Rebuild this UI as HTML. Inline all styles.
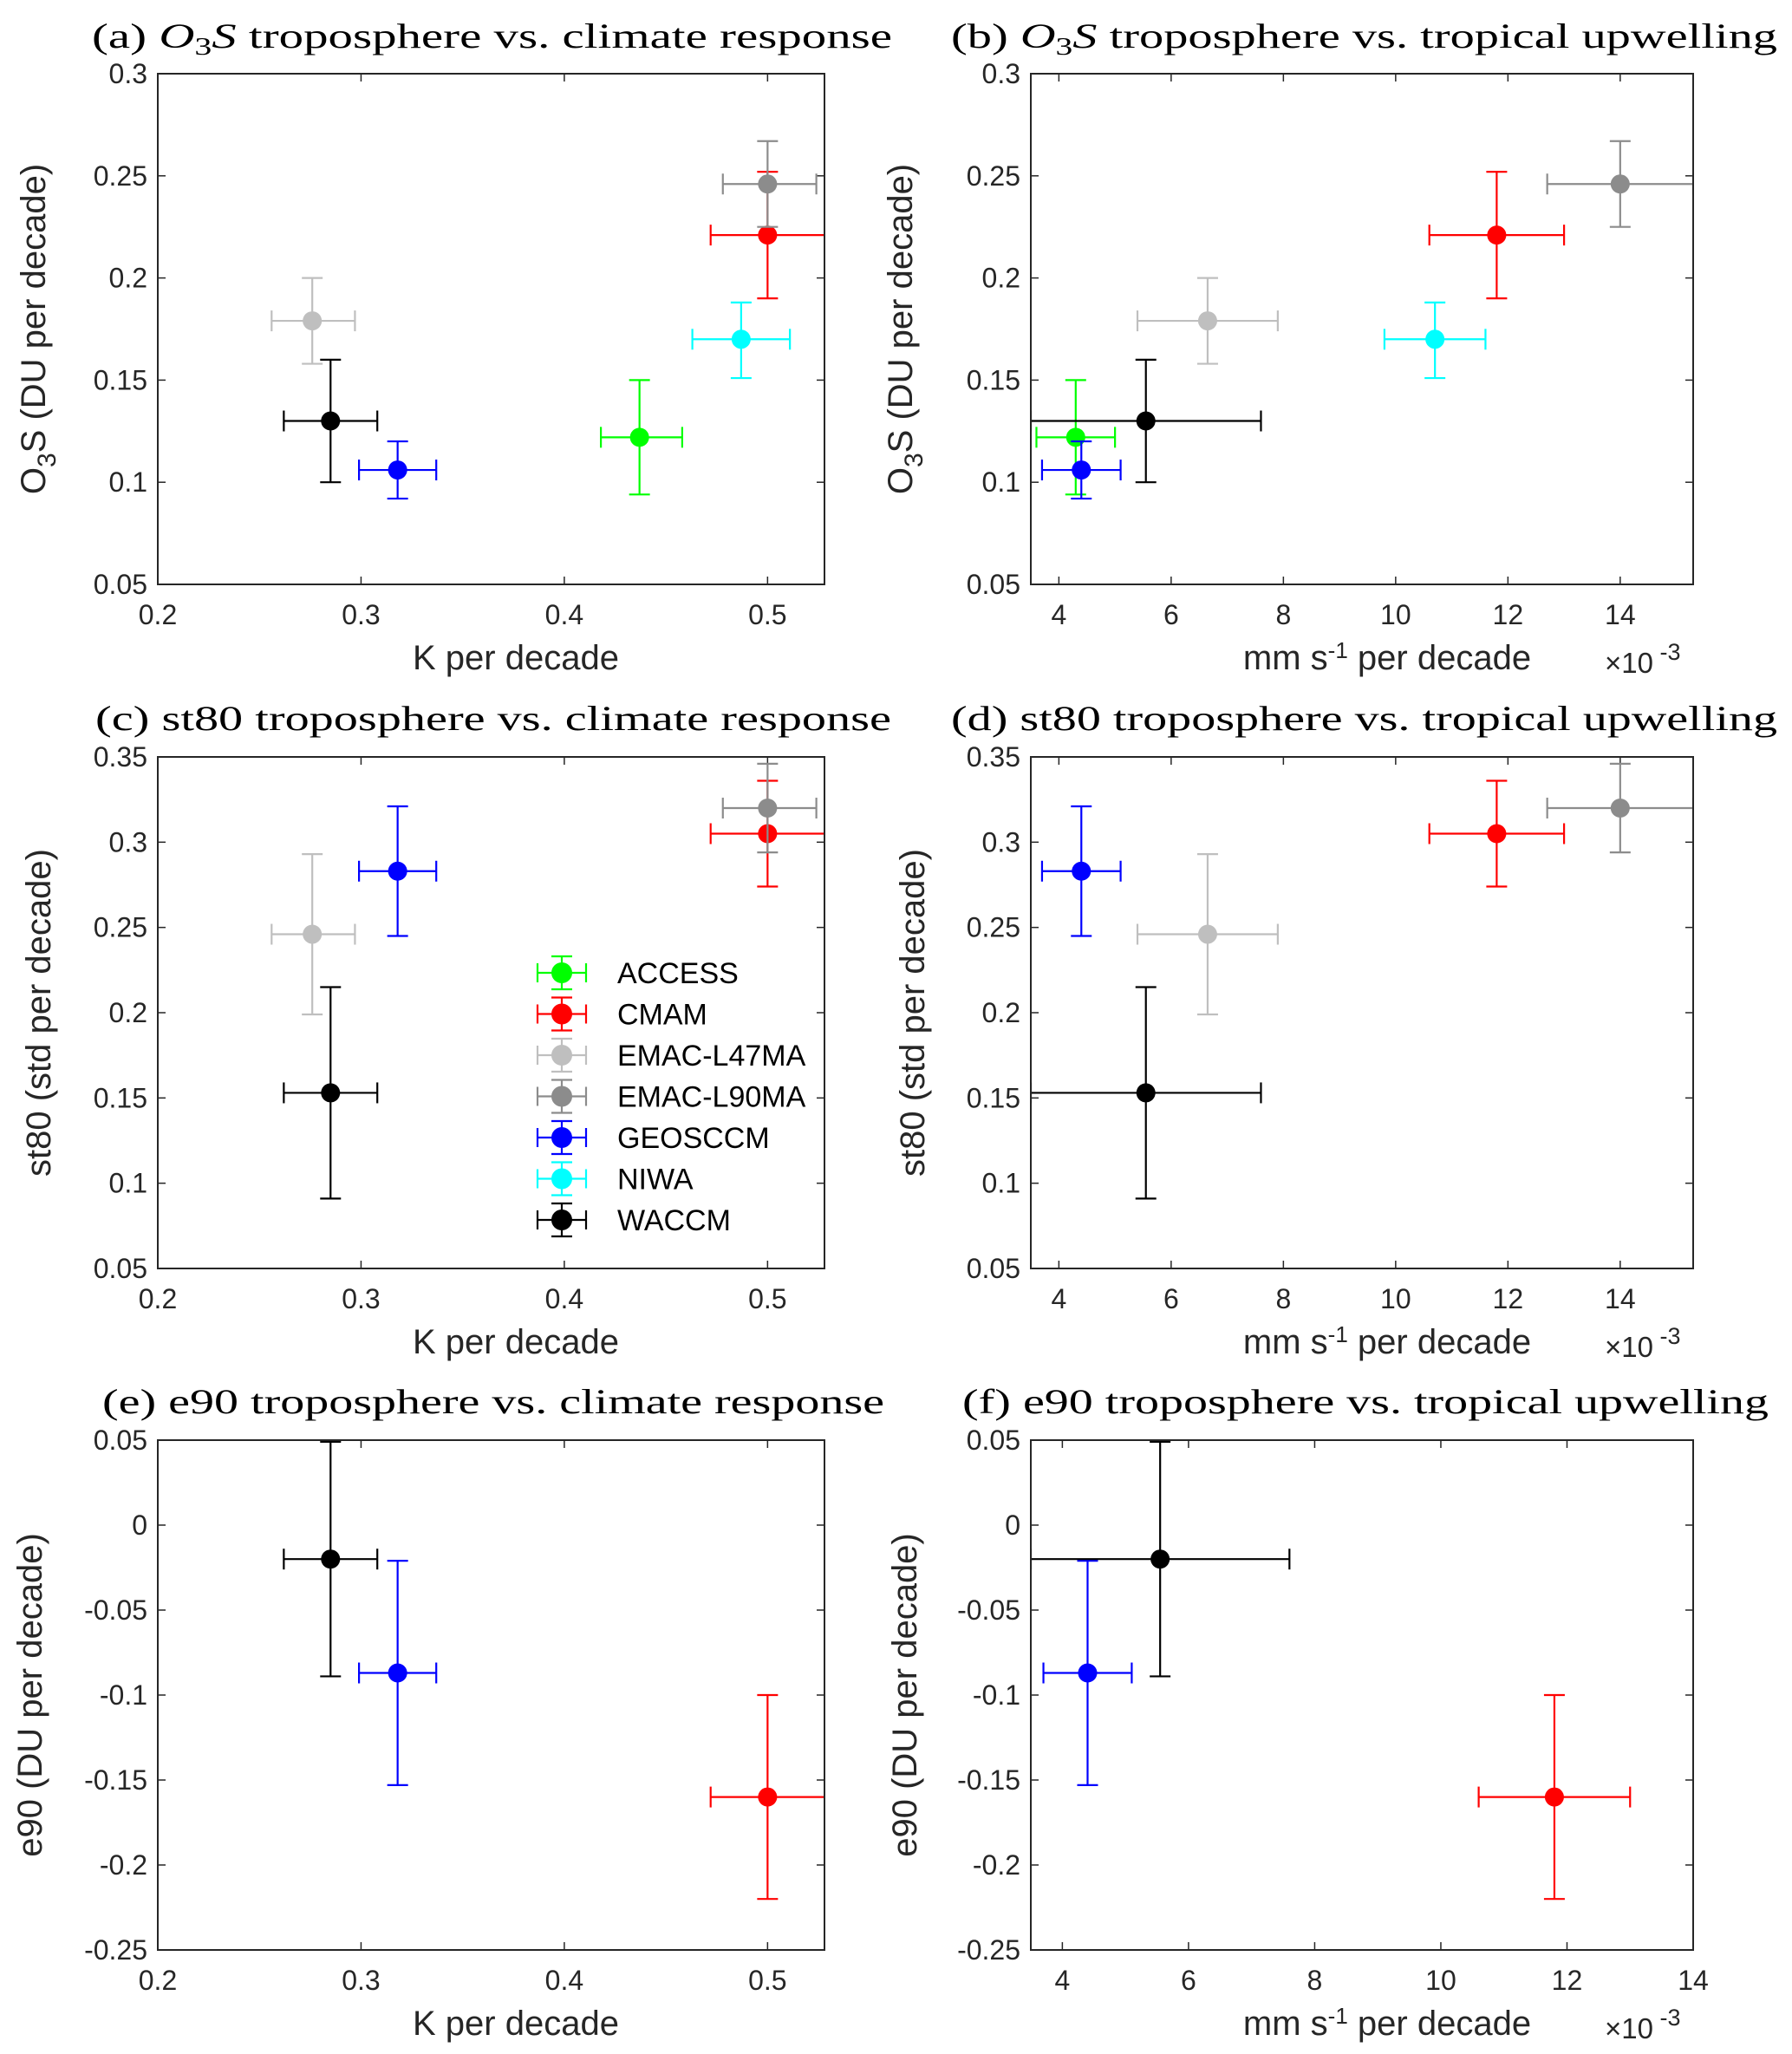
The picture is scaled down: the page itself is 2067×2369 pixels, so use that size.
<!DOCTYPE html>
<html><head><meta charset="utf-8"><style>
html,body{margin:0;padding:0;background:#fff;}
svg{display:block;}
</style></head><body>
<svg id="fig" width="2067" height="2369" viewBox="0 0 2067 2369" xmlns="http://www.w3.org/2000/svg"></svg>
<script>
const NS="http://www.w3.org/2000/svg";
const models=["ACCESS","CMAM","EMAC-L47MA","EMAC-L90MA","GEOSCCM","NIWA","WACCM"];
const colors=["#00ff00","#ff0000","#bfbfbf","#8c8c8c","#0000ff","#00ffff","#000000"];
// climate response (K per decade): value, low, high
const kVal=[0.437,0.500,0.276,0.500,0.318,0.487,0.285];
const kLo=[0.418,0.472,0.256,0.478,0.299,0.463,0.262];
const kHi=[0.458,0.530,0.297,0.524,0.337,0.511,0.308];
// tropical upwelling (x1e-3 mm/s per decade)
const wVal=[4.3,11.8,6.65,14.0,4.4,10.7,5.55];
const wLo=[3.6,10.6,5.4,12.7,3.7,9.8,3.5];
const wHi=[5.0,13.0,7.9,15.3,5.1,11.6,7.6];
// O3S
const o3Val=[0.122,0.221,0.179,0.246,0.106,0.170,0.130];
const o3Lo=[0.094,0.190,0.158,0.225,0.092,0.151,0.100];
const o3Hi=[0.150,0.252,0.200,0.267,0.120,0.188,0.160];
// st80 (null = absent)
const stVal=[null,0.305,0.246,0.320,0.283,null,0.153];
const stLo=[null,0.274,0.199,0.294,0.245,null,0.091];
const stHi=[null,0.336,0.293,0.346,0.321,null,0.215];
// e90
const eVal=[null,-0.160,null,null,-0.087,null,-0.020];
const eLo=[null,-0.220,null,null,-0.153,null,-0.089];
const eHi=[null,-0.100,null,null,-0.021,null,0.049];
const kTicks=["0.2","0.3","0.4","0.5"];
const wTicks=["4","6","8","10","12","14"];
const o3Ticks=["0.05","0.1","0.15","0.2","0.25","0.3"];
const stTicks=["0.05","0.1","0.15","0.2","0.25","0.3","0.35"];
const eTicks=["-0.25","-0.2","-0.15","-0.1","-0.05","0","0.05"];

const svg=document.getElementById('fig');
function mk(tag,attrs,parent,text){const e=document.createElementNS(NS,tag);for(const k in attrs)e.setAttribute(k,attrs[k]);if(text!==undefined)e.textContent=text;(parent||svg).appendChild(e);return e;}

function panel(cfg){
  const g=mk('g',{});
  
  
  const L=cfg.L,R=cfg.R,T=cfg.T,B=cfg.B;
  const sx=v=>L+(v-cfg.x0)/(cfg.x1-cfg.x0)*(R-L);
  const sy=v=>B-(v-cfg.y0)/(cfg.y1-cfg.y0)*(B-T);
  const t=mk('text',{x:cfg.tx,y:cfg.ty,'font-family':'Liberation Serif, serif','font-size':40,fill:'#000',textLength:cfg.tw,lengthAdjust:'spacingAndGlyphs'},g);
  t.innerHTML=cfg.title;
  
  
  cfg.xt.forEach(s=>{const v=parseFloat(s),x=sx(v);
    mk('line',{x1:x,y1:B,x2:x,y2:B-9,stroke:'#262626','stroke-width':1.5},g);
    mk('line',{x1:x,y1:T,x2:x,y2:T+9,stroke:'#262626','stroke-width':1.5},g);
    const tl=mk('text',{x:x,y:B+46,'text-anchor':'middle','font-family':'Liberation Sans, sans-serif','font-size':32,fill:'#262626'},g,s);
    
    
  });
  cfg.yt.forEach(s=>{const v=parseFloat(s),y=sy(v);
    mk('line',{x1:L,y1:y,x2:L+9,y2:y,stroke:'#262626','stroke-width':1.5},g);
    mk('line',{x1:R,y1:y,x2:R-9,y2:y,stroke:'#262626','stroke-width':1.5},g);
    const tl=mk('text',{x:L-12,y:y+11,'text-anchor':'end','font-family':'Liberation Sans, sans-serif','font-size':32,fill:'#262626'},g,s);
    
    
  });
  const clip='c'+cfg.name;
  const cp=mk('clipPath',{id:clip},g);mk('rect',{x:L-1,y:T-1,width:R-L+2,height:B-T+2},cp);
  const dg=mk('g',{'clip-path':'url(#'+clip+')'},g);
  for(let i=0;i<models.length;i++){
    if(cfg.yv[i]===null)continue;
    const c=colors[i],x=sx(cfg.xv[i]),y=sy(cfg.yv[i]);
    const xl=sx(cfg.xl[i]),xh=sx(cfg.xh[i]),yl=sy(cfg.yl[i]),yh=sy(cfg.yh[i]);
    const pg=mk('g',{stroke:c,'stroke-width':2.2,fill:'none'},dg);
    
    
    const cw=12;
    mk('line',{x1:xl,y1:y,x2:xh,y2:y},pg);
    mk('line',{x1:xl,y1:y-cw,x2:xl,y2:y+cw},pg);
    mk('line',{x1:xh,y1:y-cw,x2:xh,y2:y+cw},pg);
    mk('line',{x1:x,y1:yl,x2:x,y2:yh},pg);
    mk('line',{x1:x-cw,y1:yl,x2:x+cw,y2:yl},pg);
    mk('line',{x1:x-cw,y1:yh,x2:x+cw,y2:yh},pg);
    mk('circle',{cx:x,cy:y,r:11,fill:c,stroke:'none'},pg);
  }
  mk('rect',{x:L,y:T,width:R-L,height:B-T,fill:'none',stroke:'#262626','stroke-width':2},g);
  const xlab=mk('text',{x:cfg.xlx,y:B+98,'text-anchor':'middle','font-family':'Liberation Sans, sans-serif','font-size':40,fill:'#262626'},g);
  xlab.innerHTML=cfg.xlab;
  
  
  if(cfg.mult){const m=mk('text',{x:R-102,y:B+102,'font-family':'Liberation Sans, sans-serif','font-size':33,fill:'#262626'},g);
    m.innerHTML='×10<tspan dy="-15" font-size="27"> -3</tspan>';
    
    }
  const cy=(T+B)/2;
  const yl=mk('text',{x:cfg.ylx,y:cy,'text-anchor':'middle','font-family':'Liberation Sans, sans-serif','font-size':40,fill:'#262626',transform:'rotate(-90 '+cfg.ylx+' '+cy+')'},g);
  yl.innerHTML=cfg.ylab;
  
  
}
const LL=182,LR=951,RL=1189,RR=1953;
const rows=[{T:85,B:674},{T:873,B:1463},{T:1661,B:2249}];
const o3lab='O<tspan dy="12" font-size="30">3</tspan><tspan dy="-12">S (DU per decade)</tspan>';
const kx={x0:0.2,x1:0.528,xt:kTicks,xv:kVal,xl:kLo,xh:kHi,L:LL,R:LR,xlx:595,xlab:'K per decade'};
const wx={x0:3.5,x1:15.3,xt:wTicks,xv:wVal,xl:wLo,xh:wHi,L:RL,R:RR,xlx:1600,xlab:'mm s<tspan dy="-13" font-size="26">-1</tspan><tspan dy="13"> per decade</tspan>',mult:true};
const wxf=Object.assign({},wx,{x1:14});
const o3y={y0:0.05,y1:0.3,yt:o3Ticks,yv:o3Val,yl:o3Lo,yh:o3Hi,ylab:o3lab};
const sty={y0:0.05,y1:0.35,yt:stTicks,yv:stVal,yl:stLo,yh:stHi,ylab:'st80 (std per decade)'};
const ey={y0:-0.25,y1:0.05,yt:eTicks,yv:eVal,yl:eLo,yh:eHi,ylab:'e90 (DU per decade)'};
const it=s=>'<tspan font-style="italic">O</tspan><tspan font-size="28" dy="8">3</tspan><tspan font-style="italic" dy="-8">S</tspan>'+s;
panel(Object.assign({name:'panel-a',title:'(a) '+it(' troposphere vs. climate response'),tx:106,ty:55,tw:923,ylx:52},kx,o3y,rows[0]));
panel(Object.assign({name:'panel-b',title:'(b) '+it(' troposphere vs. tropical upwelling'),tx:1097,ty:55,tw:953,ylx:1052},wx,o3y,rows[0]));
panel(Object.assign({name:'panel-c',title:'(c) st80 troposphere vs. climate response',tx:110,ty:842,tw:918,ylx:58},kx,sty,rows[1]));
panel(Object.assign({name:'panel-d',title:'(d) st80 troposphere vs. tropical upwelling',tx:1097,ty:842,tw:953,ylx:1066},wx,sty,rows[1]));
panel(Object.assign({name:'panel-e',title:'(e) e90 troposphere vs. climate response',tx:118,ty:1630,tw:902,ylx:48},kx,ey,rows[2]));
panel(Object.assign({name:'panel-f',title:'(f) e90 troposphere vs. tropical upwelling',tx:1110,ty:1630,tw:930,ylx:1057},wxf,ey,rows[2]));
// legend
const lg=mk('g',{});


models.forEach((m,i)=>{
  const y=1122+i*47.5,x=648,c=colors[i];
  const eg=mk('g',{stroke:c,'stroke-width':2.2},lg);
  
  
  mk('line',{x1:x-28,y1:y,x2:x+28,y2:y},eg);
  mk('line',{x1:x-28,y1:y-11,x2:x-28,y2:y+11},eg);
  mk('line',{x1:x+28,y1:y-11,x2:x+28,y2:y+11},eg);
  mk('line',{x1:x,y1:y-19,x2:x,y2:y+19},eg);
  mk('line',{x1:x-12,y1:y-19,x2:x+12,y2:y-19},eg);
  mk('line',{x1:x-12,y1:y+19,x2:x+12,y2:y+19},eg);
  mk('circle',{cx:x,cy:y,r:12,fill:c,stroke:'none'},eg);
  const t=mk('text',{x:712,y:y+12,'font-family':'Liberation Sans, sans-serif','font-size':34,fill:'#000',stroke:'none'},eg,m);
  
  
});
</script>
</body></html>
